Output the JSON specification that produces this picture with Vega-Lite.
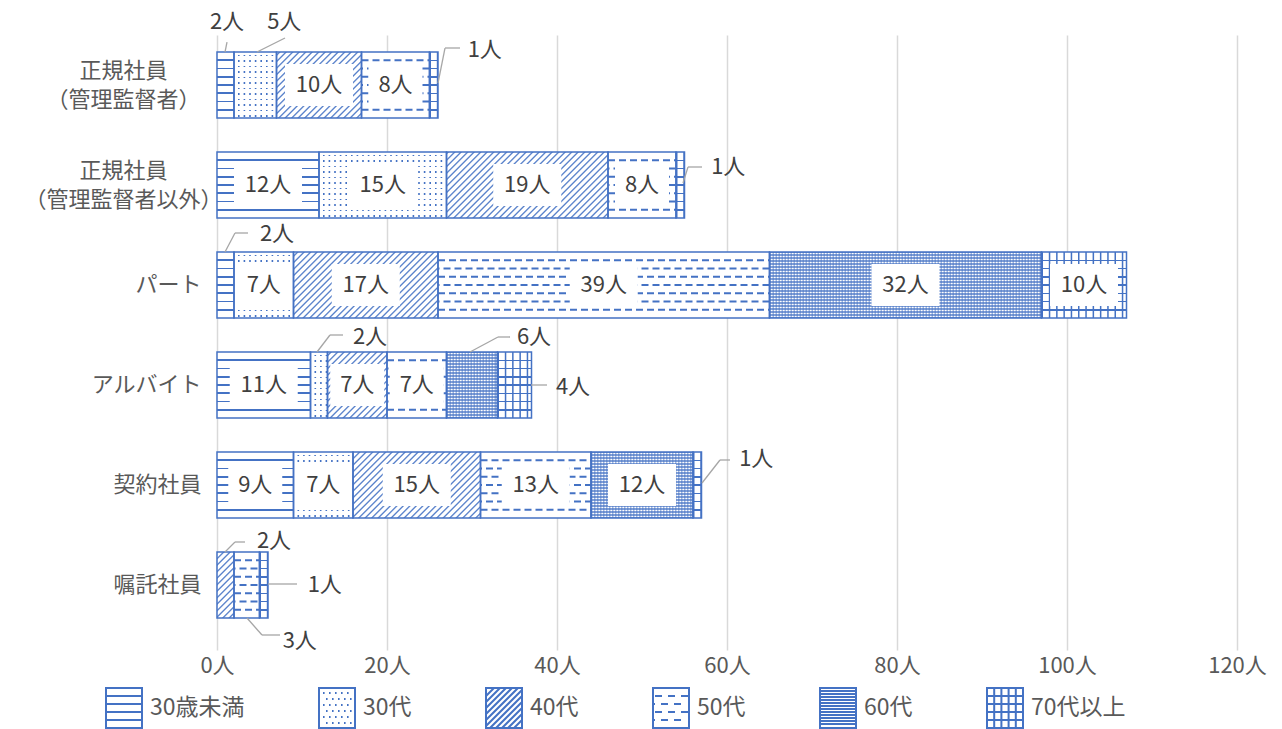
{
"$schema":"https://vega.github.io/schema/vega-lite/v6.json",
"width":1020,"height":615,
"autosize":{"type":"none"},
"padding":{"left":217,"top":35,"right":45,"bottom":79},
"background":"#ffffff",
"config":{
 "font":"Noto Sans CJK JP",
 "view":{"stroke":null},
 "text":{"fontSize":22,"fill":"#404040","font":"Noto Sans CJK JP","align":"center","baseline":"middle"},
 "rule":{"stroke":"#a6a6a6","strokeWidth":1.3}
},
"data":{"values":[
{"cat":"正規社員（管理監督者）","age":"30歳未満","k":1,"v":2},
{"cat":"正規社員（管理監督者）","age":"30代","k":2,"v":5},
{"cat":"正規社員（管理監督者）","age":"40代","k":3,"v":10},
{"cat":"正規社員（管理監督者）","age":"50代","k":4,"v":8},
{"cat":"正規社員（管理監督者）","age":"70代以上","k":6,"v":1},
{"cat":"正規社員（管理監督者以外）","age":"30歳未満","k":1,"v":12},
{"cat":"正規社員（管理監督者以外）","age":"30代","k":2,"v":15},
{"cat":"正規社員（管理監督者以外）","age":"40代","k":3,"v":19},
{"cat":"正規社員（管理監督者以外）","age":"50代","k":4,"v":8},
{"cat":"正規社員（管理監督者以外）","age":"70代以上","k":6,"v":1},
{"cat":"パート","age":"30歳未満","k":1,"v":2},
{"cat":"パート","age":"30代","k":2,"v":7},
{"cat":"パート","age":"40代","k":3,"v":17},
{"cat":"パート","age":"50代","k":4,"v":39},
{"cat":"パート","age":"60代","k":5,"v":32},
{"cat":"パート","age":"70代以上","k":6,"v":10},
{"cat":"アルバイト","age":"30歳未満","k":1,"v":11},
{"cat":"アルバイト","age":"30代","k":2,"v":2},
{"cat":"アルバイト","age":"40代","k":3,"v":7},
{"cat":"アルバイト","age":"50代","k":4,"v":7},
{"cat":"アルバイト","age":"60代","k":5,"v":6},
{"cat":"アルバイト","age":"70代以上","k":6,"v":4},
{"cat":"契約社員","age":"30歳未満","k":1,"v":9},
{"cat":"契約社員","age":"30代","k":2,"v":7},
{"cat":"契約社員","age":"40代","k":3,"v":15},
{"cat":"契約社員","age":"50代","k":4,"v":13},
{"cat":"契約社員","age":"60代","k":5,"v":12},
{"cat":"契約社員","age":"70代以上","k":6,"v":1},
{"cat":"嘱託社員","age":"40代","k":3,"v":2},
{"cat":"嘱託社員","age":"50代","k":4,"v":3},
{"cat":"嘱託社員","age":"70代以上","k":6,"v":1}
]},
"transform":[
 {"stack":"v","groupby":["cat"],"sort":[{"field":"k","order":"ascending"}],"as":["x0","x1"]},
 {"calculate":"(datum.x0+datum.x1)/2","as":"mid"},
 {"calculate":"datum.v+'人'","as":"label"}
],
"encoding":{"y":{"field":"cat","type":"nominal","title":null,
  "sort":["正規社員（管理監督者）","正規社員（管理監督者以外）","パート","アルバイト","契約社員","嘱託社員"],
  "scale":{"paddingInner":0.34,"paddingOuter":0.245,"align":0.347},
  "axis":{"domain":false,"ticks":false,"grid":false,"labelFontSize":22,"labelColor":"#595959","labelLineHeight":29,"labelBaseline":"middle","labelLimit":400,
   "labelAlign":{"condition":{"test":"indexof(datum.value,'（')>0","value":"center"},"value":"right"},
   "labelPadding":{"condition":{"test":"indexof(datum.value,'（')>0","value":94},"value":16},
   "labelOffset":{"condition":{"test":"indexof(datum.value,'（')>0","value":-14},"value":0},
   "labelExpr":"indexof(datum.label,'（')>0 ? [substring(datum.label,0,indexof(datum.label,'（')), substring(datum.label,indexof(datum.label,'（'))] : datum.label"}}},
"layer":[
 {"mark":{"type":"point","filled":false,"color":"#4472c4","opacity":0,"strokeWidth":2},
  "encoding":{"x":{"field":"x0","type":"quantitative","title":null},
   "shape":{"field":"age","type":"nominal",
    "scale":{"domain":["30歳未満","30代","40代","50代","60代","70代以上"],
     "range":["M-0.9,-1H0.9V1H-0.9Z M-0.9,-0.6H0.9 M-0.9,-0.2H0.9 M-0.9,0.2H0.9 M-0.9,0.6H0.9",
      "M-0.9,-1H0.9V1H-0.9Z M-0.7,-0.75h0.08 M-0.4,-0.75h0.08 M-0.1,-0.75h0.08 M0.2,-0.75h0.08 M0.5,-0.75h0.08 M-0.55,-0.45h0.08 M-0.25,-0.45h0.08 M0.05,-0.45h0.08 M0.35,-0.45h0.08 M0.65,-0.45h0.08 M-0.7,-0.15h0.08 M-0.4,-0.15h0.08 M-0.1,-0.15h0.08 M0.2,-0.15h0.08 M0.5,-0.15h0.08 M-0.55,0.15h0.08 M-0.25,0.15h0.08 M0.05,0.15h0.08 M0.35,0.15h0.08 M0.65,0.15h0.08 M-0.7,0.45h0.08 M-0.4,0.45h0.08 M-0.1,0.45h0.08 M0.2,0.45h0.08 M0.5,0.45h0.08 M-0.55,0.75h0.08 M-0.25,0.75h0.08 M0.05,0.75h0.08 M0.35,0.75h0.08 M0.65,0.75h0.08",
      "M-0.9,-1H0.9V1H-0.9Z M-0.9,-0.6L-0.5,-1 M-0.9,-0.3L-0.2,-1 M-0.9,0L0.1,-1 M-0.9,0.3L0.4,-1 M-0.9,0.6L0.7,-1 M-0.9,0.9L0.9,-0.9 M-0.7,1L0.9,-0.6 M-0.4,1L0.9,-0.3 M-0.1,1L0.9,0 M0.2,1L0.9,0.3 M0.5,1L0.9,0.6",
      "M-0.9,-1H0.9V1H-0.9Z M-0.8,-0.6h0.35 M-0.15,-0.6h0.35 M0.5,-0.6h0.35 M-0.9,-0.2h0.1 M-0.5,-0.2h0.35 M0.15,-0.2h0.35 M-0.8,0.2h0.35 M-0.15,0.2h0.35 M0.5,0.2h0.35 M-0.9,0.6h0.1 M-0.5,0.6h0.35 M0.15,0.6h0.35",
      "M-0.9,-1H0.9V1H-0.9Z M-0.9,-0.85H0.9 M-0.9,-0.7H0.9 M-0.9,-0.55H0.9 M-0.9,-0.4H0.9 M-0.9,-0.25H0.9 M-0.9,-0.1H0.9 M-0.9,0.05H0.9 M-0.9,0.2H0.9 M-0.9,0.35H0.9 M-0.9,0.5H0.9 M-0.9,0.65H0.9 M-0.9,0.8H0.9",
      "M-0.9,-1H0.9V1H-0.9Z M-0.9,-0.6H0.9 M-0.9,-0.2H0.9 M-0.9,0.2H0.9 M-0.9,0.6H0.9 M-0.54,-1V1 M-0.18,-1V1 M0.18,-1V1 M0.54,-1V1"]},
    "legend":{"title":null,"orient":"none","legendX":-114,"legendY":652,"direction":"horizontal","columns":6,"symbolOpacity":1,"symbolSize":1600,"symbolStrokeColor":"#4472c4","symbolStrokeWidth":2,"symbolFillColor":"#ffffff","labelFontSize":23,"labelColor":"#595959","labelOffset":5,"columnPadding":70}}}},
 {"transform":[{"filter":"datum.k===3"}],
  "mark":{"type":"bar","clip":true,"xOffset":-161.5,
   "fill":{"gradient":"linear","x1":0,"y1":0,"x2":1.2071,"y2":0.4933,"stops":[
{"offset":0,"color":"#fff"},{"offset":0.0075,"color":"#4472c4"},{"offset":0.015,"color":"#fff"},
{"offset":0.0286,"color":"#fff"},{"offset":0.0361,"color":"#4472c4"},{"offset":0.0436,"color":"#fff"},
{"offset":0.0571,"color":"#fff"},{"offset":0.0646,"color":"#4472c4"},{"offset":0.0721,"color":"#fff"},
{"offset":0.0857,"color":"#fff"},{"offset":0.0932,"color":"#4472c4"},{"offset":0.1007,"color":"#fff"},
{"offset":0.1143,"color":"#fff"},{"offset":0.1218,"color":"#4472c4"},{"offset":0.1293,"color":"#fff"},
{"offset":0.1429,"color":"#fff"},{"offset":0.1504,"color":"#4472c4"},{"offset":0.1579,"color":"#fff"},
{"offset":0.1714,"color":"#fff"},{"offset":0.1789,"color":"#4472c4"},{"offset":0.1864,"color":"#fff"},
{"offset":0.2,"color":"#fff"},{"offset":0.2075,"color":"#4472c4"},{"offset":0.215,"color":"#fff"},
{"offset":0.2286,"color":"#fff"},{"offset":0.2361,"color":"#4472c4"},{"offset":0.2436,"color":"#fff"},
{"offset":0.2571,"color":"#fff"},{"offset":0.2646,"color":"#4472c4"},{"offset":0.2721,"color":"#fff"},
{"offset":0.2857,"color":"#fff"},{"offset":0.2932,"color":"#4472c4"},{"offset":0.3007,"color":"#fff"},
{"offset":0.3143,"color":"#fff"},{"offset":0.3218,"color":"#4472c4"},{"offset":0.3293,"color":"#fff"},
{"offset":0.3429,"color":"#fff"},{"offset":0.3504,"color":"#4472c4"},{"offset":0.3579,"color":"#fff"},
{"offset":0.3714,"color":"#fff"},{"offset":0.3789,"color":"#4472c4"},{"offset":0.3864,"color":"#fff"},
{"offset":0.4,"color":"#fff"},{"offset":0.4075,"color":"#4472c4"},{"offset":0.415,"color":"#fff"},
{"offset":0.4286,"color":"#fff"},{"offset":0.4361,"color":"#4472c4"},{"offset":0.4436,"color":"#fff"},
{"offset":0.4571,"color":"#fff"},{"offset":0.4646,"color":"#4472c4"},{"offset":0.4721,"color":"#fff"},
{"offset":0.4857,"color":"#fff"},{"offset":0.4932,"color":"#4472c4"},{"offset":0.5007,"color":"#fff"},
{"offset":0.5143,"color":"#fff"},{"offset":0.5218,"color":"#4472c4"},{"offset":0.5293,"color":"#fff"},
{"offset":0.5429,"color":"#fff"},{"offset":0.5504,"color":"#4472c4"},{"offset":0.5579,"color":"#fff"},
{"offset":0.5714,"color":"#fff"},{"offset":0.5789,"color":"#4472c4"},{"offset":0.5864,"color":"#fff"},
{"offset":0.6,"color":"#fff"},{"offset":0.6075,"color":"#4472c4"},{"offset":0.615,"color":"#fff"},
{"offset":0.6286,"color":"#fff"},{"offset":0.6361,"color":"#4472c4"},{"offset":0.6436,"color":"#fff"},
{"offset":0.6571,"color":"#fff"},{"offset":0.6646,"color":"#4472c4"},{"offset":0.6721,"color":"#fff"},
{"offset":0.6857,"color":"#fff"},{"offset":0.6932,"color":"#4472c4"},{"offset":0.7007,"color":"#fff"},
{"offset":0.7143,"color":"#fff"},{"offset":0.7218,"color":"#4472c4"},{"offset":0.7293,"color":"#fff"},
{"offset":0.7429,"color":"#fff"},{"offset":0.7504,"color":"#4472c4"},{"offset":0.7579,"color":"#fff"},
{"offset":0.7714,"color":"#fff"},{"offset":0.7789,"color":"#4472c4"},{"offset":0.7864,"color":"#fff"},
{"offset":0.8,"color":"#fff"},{"offset":0.8075,"color":"#4472c4"},{"offset":0.815,"color":"#fff"},
{"offset":0.8286,"color":"#fff"},{"offset":0.8361,"color":"#4472c4"},{"offset":0.8436,"color":"#fff"},
{"offset":0.8571,"color":"#fff"},{"offset":0.8646,"color":"#4472c4"},{"offset":0.8721,"color":"#fff"},
{"offset":0.8857,"color":"#fff"},{"offset":0.8932,"color":"#4472c4"},{"offset":0.9007,"color":"#fff"},
{"offset":0.9143,"color":"#fff"},{"offset":0.9218,"color":"#4472c4"},{"offset":0.9293,"color":"#fff"},
{"offset":0.9429,"color":"#fff"},{"offset":0.9504,"color":"#4472c4"},{"offset":0.9579,"color":"#fff"},
{"offset":0.9714,"color":"#fff"},{"offset":0.9789,"color":"#4472c4"},{"offset":0.9864,"color":"#fff"},
{"offset":1,"color":"#fff"}]}},
  "encoding":{"x":{"field":"x1","type":"quantitative","title":null,"scale":{"domain":[0,120],"nice":false},
    "axis":{"values":[0,20,40,60,80,100,120],"labelExpr":"datum.value+'人'","grid":true,"gridColor":"#d9d9d9","gridWidth":1.5,"domain":false,"ticks":false,"labelFontSize":22,"labelColor":"#595959","labelPadding":5,"labelFlush":false,"labelOverlap":false}},
   "x2":{"field":"x1"}}},
 {"transform":[{"filter":"datum.k===1"}],
  "mark":{"type":"bar","fill":{"gradient":"linear","x1":0,"y1":0,"x2":0,"y2":1,"stops":[
{"offset":0,"color":"#fff"},
{"offset":0.11,"color":"#fff"},{"offset":0.11,"color":"#4472c4"},{"offset":0.14,"color":"#4472c4"},{"offset":0.14,"color":"#fff"},
{"offset":0.235,"color":"#fff"},{"offset":0.235,"color":"#4472c4"},{"offset":0.265,"color":"#4472c4"},{"offset":0.265,"color":"#fff"},
{"offset":0.36,"color":"#fff"},{"offset":0.36,"color":"#4472c4"},{"offset":0.39,"color":"#4472c4"},{"offset":0.39,"color":"#fff"},
{"offset":0.485,"color":"#fff"},{"offset":0.485,"color":"#4472c4"},{"offset":0.515,"color":"#4472c4"},{"offset":0.515,"color":"#fff"},
{"offset":0.61,"color":"#fff"},{"offset":0.61,"color":"#4472c4"},{"offset":0.64,"color":"#4472c4"},{"offset":0.64,"color":"#fff"},
{"offset":0.735,"color":"#fff"},{"offset":0.735,"color":"#4472c4"},{"offset":0.765,"color":"#4472c4"},{"offset":0.765,"color":"#fff"},
{"offset":0.86,"color":"#fff"},{"offset":0.86,"color":"#4472c4"},{"offset":0.89,"color":"#4472c4"},{"offset":0.89,"color":"#fff"},
{"offset":1,"color":"#fff"}]}},
  "encoding":{"x":{"field":"x0","type":"quantitative","title":null},"x2":{"field":"x1"}}},
 {"transform":[{"filter":"datum.k===2"}],
  "encoding":{"x":{"field":"x0","type":"quantitative","title":null},"x2":{"field":"x1"}},
  "layer":[
   {"mark":{"type":"bar","fill":{"gradient":"linear","x1":0,"y1":0,"x2":0,"y2":1,"stops":[
{"offset":0,"color":"#fff"},
{"offset":0.041,"color":"#fff"},{"offset":0.041,"color":"#4472c4"},{"offset":0.065,"color":"#4472c4"},{"offset":0.065,"color":"#fff"},
{"offset":0.124,"color":"#fff"},{"offset":0.124,"color":"#4472c4"},{"offset":0.148,"color":"#4472c4"},{"offset":0.148,"color":"#fff"},
{"offset":0.208,"color":"#fff"},{"offset":0.208,"color":"#4472c4"},{"offset":0.232,"color":"#4472c4"},{"offset":0.232,"color":"#fff"},
{"offset":0.291,"color":"#fff"},{"offset":0.291,"color":"#4472c4"},{"offset":0.315,"color":"#4472c4"},{"offset":0.315,"color":"#fff"},
{"offset":0.374,"color":"#fff"},{"offset":0.374,"color":"#4472c4"},{"offset":0.398,"color":"#4472c4"},{"offset":0.398,"color":"#fff"},
{"offset":0.458,"color":"#fff"},{"offset":0.458,"color":"#4472c4"},{"offset":0.482,"color":"#4472c4"},{"offset":0.482,"color":"#fff"},
{"offset":0.541,"color":"#fff"},{"offset":0.541,"color":"#4472c4"},{"offset":0.565,"color":"#4472c4"},{"offset":0.565,"color":"#fff"},
{"offset":0.624,"color":"#fff"},{"offset":0.624,"color":"#4472c4"},{"offset":0.648,"color":"#4472c4"},{"offset":0.648,"color":"#fff"},
{"offset":0.708,"color":"#fff"},{"offset":0.708,"color":"#4472c4"},{"offset":0.732,"color":"#4472c4"},{"offset":0.732,"color":"#fff"},
{"offset":0.791,"color":"#fff"},{"offset":0.791,"color":"#4472c4"},{"offset":0.815,"color":"#4472c4"},{"offset":0.815,"color":"#fff"},
{"offset":0.874,"color":"#fff"},{"offset":0.874,"color":"#4472c4"},{"offset":0.898,"color":"#4472c4"},{"offset":0.898,"color":"#fff"},
{"offset":0.958,"color":"#fff"},{"offset":0.958,"color":"#4472c4"},{"offset":0.982,"color":"#4472c4"},{"offset":0.982,"color":"#fff"},
{"offset":1,"color":"#fff"}]}}},
   {"mark":{"type":"rule","stroke":"#ffffff","strokeWidth":66,"strokeDash":[4,1.6],"strokeCap":"butt"}}
  ]},
 {"transform":[{"filter":"datum.k===4"}],
  "encoding":{"x":{"field":"x0","type":"quantitative","title":null},"x2":{"field":"x1"}},
  "layer":[
   {"mark":{"type":"bar","fill":"#ffffff"}},
   {"mark":{"type":"rule","stroke":"#4472c4","strokeWidth":2,"strokeDash":[7,4],"yOffset":-24.75}},
   {"mark":{"type":"rule","stroke":"#4472c4","strokeWidth":2,"strokeDash":[7,4],"strokeDashOffset":5.5,"yOffset":-16.5}},
   {"mark":{"type":"rule","stroke":"#4472c4","strokeWidth":2,"strokeDash":[7,4],"yOffset":-8.25}},
   {"mark":{"type":"rule","stroke":"#4472c4","strokeWidth":2,"strokeDash":[7,4],"strokeDashOffset":5.5,"yOffset":0}},
   {"mark":{"type":"rule","stroke":"#4472c4","strokeWidth":2,"strokeDash":[7,4],"yOffset":8.25}},
   {"mark":{"type":"rule","stroke":"#4472c4","strokeWidth":2,"strokeDash":[7,4],"strokeDashOffset":5.5,"yOffset":16.5}},
   {"mark":{"type":"rule","stroke":"#4472c4","strokeWidth":2,"strokeDash":[7,4],"yOffset":24.75}}
  ]},
 {"transform":[{"filter":"datum.k===5"}],
  "encoding":{"x":{"field":"x0","type":"quantitative","title":null},"x2":{"field":"x1"}},
  "layer":[
   {"mark":{"type":"bar","fill":{"gradient":"linear","x1":0,"y1":0,"x2":0,"y2":1,"stops":[
{"offset":0,"color":"#4472c4"},{"offset":0.0227,"color":"#fff"},{"offset":0.0455,"color":"#4472c4"},{"offset":0.0682,"color":"#fff"},
{"offset":0.0909,"color":"#4472c4"},{"offset":0.1136,"color":"#fff"},{"offset":0.1364,"color":"#4472c4"},{"offset":0.1591,"color":"#fff"},
{"offset":0.1818,"color":"#4472c4"},{"offset":0.2045,"color":"#fff"},{"offset":0.2273,"color":"#4472c4"},{"offset":0.25,"color":"#fff"},
{"offset":0.2727,"color":"#4472c4"},{"offset":0.2955,"color":"#fff"},{"offset":0.3182,"color":"#4472c4"},{"offset":0.3409,"color":"#fff"},
{"offset":0.3636,"color":"#4472c4"},{"offset":0.3864,"color":"#fff"},{"offset":0.4091,"color":"#4472c4"},{"offset":0.4318,"color":"#fff"},
{"offset":0.4545,"color":"#4472c4"},{"offset":0.4773,"color":"#fff"},{"offset":0.5,"color":"#4472c4"},{"offset":0.5227,"color":"#fff"},
{"offset":0.5455,"color":"#4472c4"},{"offset":0.5682,"color":"#fff"},{"offset":0.5909,"color":"#4472c4"},{"offset":0.6136,"color":"#fff"},
{"offset":0.6364,"color":"#4472c4"},{"offset":0.6591,"color":"#fff"},{"offset":0.6818,"color":"#4472c4"},{"offset":0.7045,"color":"#fff"},
{"offset":0.7273,"color":"#4472c4"},{"offset":0.75,"color":"#fff"},{"offset":0.7727,"color":"#4472c4"},{"offset":0.7955,"color":"#fff"},
{"offset":0.8182,"color":"#4472c4"},{"offset":0.8409,"color":"#fff"},{"offset":0.8636,"color":"#4472c4"},{"offset":0.8864,"color":"#fff"},
{"offset":0.9091,"color":"#4472c4"},{"offset":0.9318,"color":"#fff"},{"offset":0.9545,"color":"#4472c4"},{"offset":0.9773,"color":"#fff"},
{"offset":1,"color":"#4472c4"}]}}},
   {"mark":{"type":"rule","stroke":"#4472c4","strokeOpacity":0.5,"strokeWidth":66,"strokeDash":[1.5,1.5],"strokeCap":"butt"}}
  ]},
 {"transform":[{"filter":"datum.k===6"}],
  "encoding":{"x":{"field":"x0","type":"quantitative","title":null},"x2":{"field":"x1"}},
  "layer":[
   {"mark":{"type":"bar","fill":{"gradient":"linear","x1":0,"y1":0,"x2":0,"y2":1,"stops":[
{"offset":0,"color":"#fff"},
{"offset":0.1136,"color":"#fff"},{"offset":0.1136,"color":"#4472c4"},{"offset":0.1364,"color":"#4472c4"},{"offset":0.1364,"color":"#fff"},
{"offset":0.2386,"color":"#fff"},{"offset":0.2386,"color":"#4472c4"},{"offset":0.2614,"color":"#4472c4"},{"offset":0.2614,"color":"#fff"},
{"offset":0.3636,"color":"#fff"},{"offset":0.3636,"color":"#4472c4"},{"offset":0.3864,"color":"#4472c4"},{"offset":0.3864,"color":"#fff"},
{"offset":0.4886,"color":"#fff"},{"offset":0.4886,"color":"#4472c4"},{"offset":0.5114,"color":"#4472c4"},{"offset":0.5114,"color":"#fff"},
{"offset":0.6136,"color":"#fff"},{"offset":0.6136,"color":"#4472c4"},{"offset":0.6364,"color":"#4472c4"},{"offset":0.6364,"color":"#fff"},
{"offset":0.7386,"color":"#fff"},{"offset":0.7386,"color":"#4472c4"},{"offset":0.7614,"color":"#4472c4"},{"offset":0.7614,"color":"#fff"},
{"offset":0.8636,"color":"#fff"},{"offset":0.8636,"color":"#4472c4"},{"offset":0.8864,"color":"#4472c4"},{"offset":0.8864,"color":"#fff"},
{"offset":1,"color":"#fff"}]}}},
   {"mark":{"type":"rule","stroke":"#4472c4","strokeWidth":66,"strokeDash":[1.5,5.8],"strokeCap":"butt"}}
  ]},
 {"transform":[{"filter":"datum.v>=10"}],
  "mark":{"type":"point","shape":"M-1,-0.62L1,-0.62L1,0.62L-1,0.62Z","size":4624,"filled":true,"fill":"#ffffff","opacity":1,"strokeWidth":0},
  "encoding":{"x":{"field":"mid","type":"quantitative","title":null}}},
 {"transform":[{"filter":"datum.v>=7 && datum.v<10"}],
  "mark":{"type":"point","shape":"M-1,-0.778L1,-0.778L1,0.778L-1,0.778Z","size":2916,"filled":true,"fill":"#ffffff","opacity":1,"strokeWidth":0},
  "encoding":{"x":{"field":"mid","type":"quantitative","title":null}}},
 {"mark":{"type":"bar","fillOpacity":0,"stroke":"#4472c4","strokeWidth":1.5},
  "encoding":{"x":{"field":"x0","type":"quantitative","title":null},"x2":{"field":"x1"}}},
 {"transform":[{"filter":"datum.v>=7"}],
  "mark":{"type":"text"},
  "encoding":{"x":{"field":"mid","type":"quantitative","title":null},"text":{"field":"label"}}},
 {"encoding":{"x":{"field":"mid","type":"quantitative","title":null},"text":{"field":"label"}},
  "layer":[
   {"transform":[{"filter":"datum.cat==='正規社員（管理監督者）'&&datum.k===1"}],"mark":{"type":"text","dx":1.5,"dy":-63}},
   {"transform":[{"filter":"datum.cat==='正規社員（管理監督者）'&&datum.k===2"}],"mark":{"type":"text","dx":29,"dy":-63}},
   {"transform":[{"filter":"datum.cat==='正規社員（管理監督者）'&&datum.k===6"}],"mark":{"type":"text","dx":51,"dy":-35}},
   {"transform":[{"filter":"datum.cat==='正規社員（管理監督者以外）'&&datum.k===6"}],"mark":{"type":"text","dx":48,"dy":-18}},
   {"transform":[{"filter":"datum.cat==='パート'&&datum.k===1"}],"mark":{"type":"text","dx":51.5,"dy":-51}},
   {"transform":[{"filter":"datum.cat==='アルバイト'&&datum.k===2"}],"mark":{"type":"text","dx":51,"dy":-48}},
   {"transform":[{"filter":"datum.cat==='アルバイト'&&datum.k===5"}],"mark":{"type":"text","dx":62,"dy":-48}},
   {"transform":[{"filter":"datum.cat==='アルバイト'&&datum.k===6"}],"mark":{"type":"text","dx":58.5,"dy":2}},
   {"transform":[{"filter":"datum.cat==='契約社員'&&datum.k===6"}],"mark":{"type":"text","dx":59,"dy":-26}},
   {"transform":[{"filter":"datum.cat==='嘱託社員'&&datum.k===3"}],"mark":{"type":"text","dx":48.5,"dy":-44}},
   {"transform":[{"filter":"datum.cat==='嘱託社員'&&datum.k===4"}],"mark":{"type":"text","dx":53,"dy":56}},
   {"transform":[{"filter":"datum.cat==='嘱託社員'&&datum.k===6"}],"mark":{"type":"text","dx":61,"dy":0}}
  ]},
 {"encoding":{"x":{"field":"mid","type":"quantitative","title":null},"x2":{"field":"mid"},"y2":{"field":"cat"}},
  "layer":[
   {"transform":[{"filter":"datum.cat==='正規社員（管理監督者）'&&datum.k===1"}],"mark":{"type":"rule","xOffset":-0.5,"yOffset":-33,"x2Offset":1.5,"y2Offset":-43}},
   {"transform":[{"filter":"datum.cat==='正規社員（管理監督者）'&&datum.k===2"}],"mark":{"type":"rule","xOffset":1.75,"yOffset":-33,"x2Offset":29.75,"y2Offset":-47}},
   {"transform":[{"filter":"datum.cat==='正規社員（管理監督者）'&&datum.k===6"}],"mark":{"type":"rule","xOffset":4.25,"yOffset":-2,"x2Offset":11.25,"y2Offset":-37}},
   {"transform":[{"filter":"datum.cat==='正規社員（管理監督者）'&&datum.k===6"}],"mark":{"type":"rule","xOffset":11.25,"yOffset":-37,"x2Offset":26.25,"y2Offset":-37}},
   {"transform":[{"filter":"datum.cat==='正規社員（管理監督者以外）'&&datum.k===6"}],"mark":{"type":"rule","xOffset":2.75,"yOffset":-2,"x2Offset":7.75,"y2Offset":-18}},
   {"transform":[{"filter":"datum.cat==='正規社員（管理監督者以外）'&&datum.k===6"}],"mark":{"type":"rule","xOffset":7.75,"yOffset":-18,"x2Offset":21.75,"y2Offset":-18}},
   {"transform":[{"filter":"datum.cat==='パート'&&datum.k===1"}],"mark":{"type":"rule","xOffset":-0.5,"yOffset":-33,"x2Offset":9.5,"y2Offset":-52}},
   {"transform":[{"filter":"datum.cat==='パート'&&datum.k===1"}],"mark":{"type":"rule","xOffset":9.5,"yOffset":-52,"x2Offset":22.5,"y2Offset":-52}},
   {"transform":[{"filter":"datum.cat==='アルバイト'&&datum.k===2"}],"mark":{"type":"rule","xOffset":-2,"yOffset":-33,"x2Offset":11,"y2Offset":-50}},
   {"transform":[{"filter":"datum.cat==='アルバイト'&&datum.k===2"}],"mark":{"type":"rule","xOffset":11,"yOffset":-50,"x2Offset":24,"y2Offset":-50}},
   {"transform":[{"filter":"datum.cat==='アルバイト'&&datum.k===5"}],"mark":{"type":"rule","xOffset":-2,"yOffset":-33,"x2Offset":26,"y2Offset":-48}},
   {"transform":[{"filter":"datum.cat==='アルバイト'&&datum.k===5"}],"mark":{"type":"rule","xOffset":26,"yOffset":-48,"x2Offset":38,"y2Offset":-48}},
   {"transform":[{"filter":"datum.cat==='アルバイト'&&datum.k===6"}],"mark":{"type":"rule","xOffset":16.5,"yOffset":0,"x2Offset":32.5,"y2Offset":0}},
   {"transform":[{"filter":"datum.cat==='契約社員'&&datum.k===6"}],"mark":{"type":"rule","xOffset":4.75,"yOffset":-2,"x2Offset":22.75,"y2Offset":-25}},
   {"transform":[{"filter":"datum.cat==='契約社員'&&datum.k===6"}],"mark":{"type":"rule","xOffset":22.75,"yOffset":-25,"x2Offset":32.75,"y2Offset":-25}},
   {"transform":[{"filter":"datum.cat==='嘱託社員'&&datum.k===3"}],"mark":{"type":"rule","xOffset":-0.5,"yOffset":-33,"x2Offset":9.5,"y2Offset":-43}},
   {"transform":[{"filter":"datum.cat==='嘱託社員'&&datum.k===3"}],"mark":{"type":"rule","xOffset":9.5,"yOffset":-43,"x2Offset":19.5,"y2Offset":-43}},
   {"transform":[{"filter":"datum.cat==='嘱託社員'&&datum.k===4"}],"mark":{"type":"rule","xOffset":0.25,"yOffset":33,"x2Offset":15.25,"y2Offset":50}},
   {"transform":[{"filter":"datum.cat==='嘱託社員'&&datum.k===4"}],"mark":{"type":"rule","xOffset":15.25,"yOffset":50,"x2Offset":33.25,"y2Offset":50}},
   {"transform":[{"filter":"datum.cat==='嘱託社員'&&datum.k===6"}],"mark":{"type":"rule","xOffset":4.25,"yOffset":-1,"x2Offset":33.25,"y2Offset":-1}}
  ]}
]
}
